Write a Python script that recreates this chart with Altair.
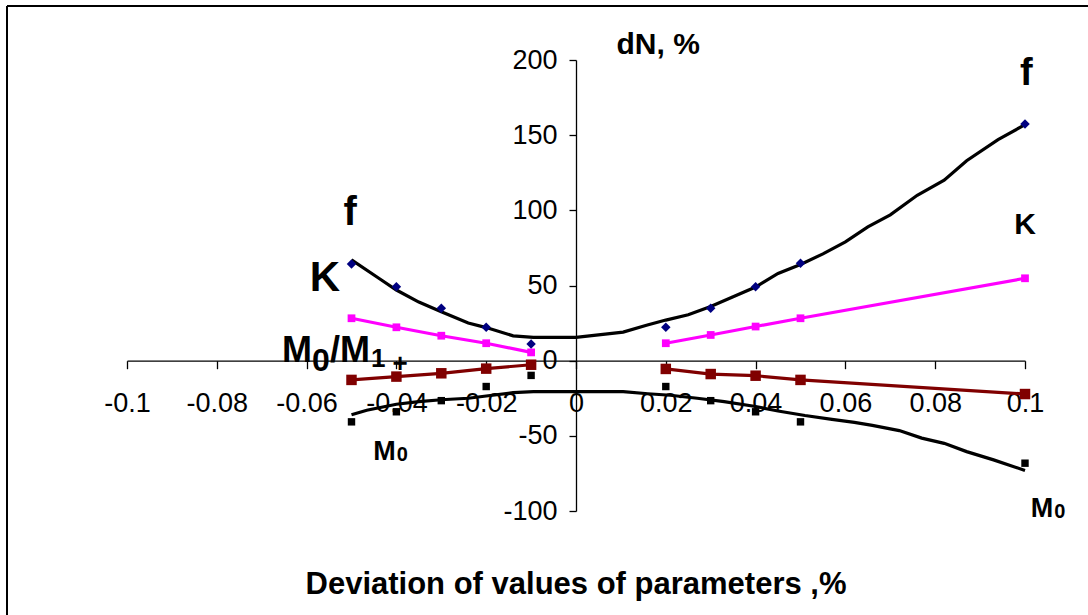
import altair as alt
import pandas as pd

# ---- data ----
x_pts = [-0.05, -0.04, -0.03, -0.02, -0.01, 0.02, 0.03, 0.04, 0.05, 0.1]
segment = ["left"] * 5 + ["right"] * 5
f_vals = [64.3, 49.2, 34.8, 22.2, 11.1, 22.2, 34.8, 49.2, 64.8, 157.4]
k_vals = [28.2, 22.2, 16.6, 11.6, 5.5, 11.6, 17.1, 22.7, 28.2, 54.8]
m01_vals = [-12.8, -10.6, -8.4, -5.3, -2.7, -5.5, -8.9, -10.0, -12.8, -22.2]
m0_vals = [-40.7, -34.0, -26.6, -17.2, -9.8, -17.2, -26.6, -34.0, -40.7, -68.2]

f_curve_x = [-0.05, -0.044, -0.04, -0.035, -0.03, -0.024, -0.02, -0.014, -0.0095, 0.0,
             0.0105, 0.0157, 0.02, 0.025, 0.03, 0.035, 0.04, 0.045, 0.05, 0.055,
             0.06, 0.065, 0.07, 0.076, 0.082, 0.087, 0.094, 0.1]
f_curve_y = [67, 55, 47, 39, 32.5, 25, 22, 16.5, 15.5, 15.5,
             19, 23.5, 27, 30.5, 36, 42.5, 49, 58, 64, 71,
             79, 89, 97, 110, 120, 133, 147, 157]

m0_curve_x = [-0.05, -0.0466, -0.04, -0.035, -0.03, -0.024, -0.02, -0.014, -0.0095, 0.0,
              0.0105, 0.016, 0.021, 0.027, 0.033, 0.04, 0.045, 0.051, 0.057, 0.062,
              0.066, 0.072, 0.077, 0.082, 0.087, 0.093, 0.1]
m0_curve_y = [-36, -33, -29, -27.3, -26, -25, -23.5, -21.3, -20.6, -20.6,
              -20.6, -22, -23, -25, -27.3, -30.5, -33.5, -36.5, -39, -41,
              -43, -46.5, -51.5, -55, -60.5, -66, -73]

x_ticks = [-0.1, -0.08, -0.06, -0.04, -0.02, 0, 0.02, 0.04, 0.06, 0.08, 0.1]
y_ticks = [-100, -50, 0, 50, 100, 150, 200]

FONT = "Liberation Sans"

pts = pd.DataFrame({"x": x_pts, "seg": segment, "f": f_vals, "k": k_vals,
                    "m01": m01_vals, "m0": m0_vals})
f_curve = pd.DataFrame({"x": f_curve_x, "y": f_curve_y})
m0_curve = pd.DataFrame({"x": m0_curve_x, "y": m0_curve_y})

xs = alt.Scale(domain=[-0.1, 0.1], nice=False, zero=False)
ys = alt.Scale(domain=[-100, 200], nice=False, zero=False)

xaxis = alt.Axis(values=x_ticks, labelExpr="'' + datum.value", offset=-150.3,
                 tickSize=8, labelPadding=22, labelFontSize=27, labelFont=FONT,
                 labelColor="black", domainColor="black", tickColor="black",
                 domainWidth=1.3, tickWidth=1.3, grid=False, title=None,
                 labelFlush=False, labelOverlap=False)
yaxis = alt.Axis(values=y_ticks, labelExpr="'' + datum.value", offset=-449,
                 tickSize=7, labelPadding=12, labelFontSize=27, labelFont=FONT,
                 labelColor="black", domainColor="black", tickColor="black",
                 domainWidth=1.3, tickWidth=1.3, grid=False, title=None,
                 labelFlush=False, labelOverlap=False)


def X(field="x"):
    return alt.X(f"{field}:Q", scale=xs, axis=xaxis)


def Y(field):
    return alt.Y(f"{field}:Q", scale=ys, axis=yaxis)


layers = []

# f trend curve
layers.append(alt.Chart(f_curve).mark_line(color="black", strokeWidth=3.2)
              .encode(x=X(), y=Y("y")))
# M0 trend curve
layers.append(alt.Chart(m0_curve).mark_line(color="black", strokeWidth=3.2)
              .encode(x=X(), y=Y("y")))
# K lines + squares
layers.append(alt.Chart(pts).mark_line(color="#FF00FF", strokeWidth=3.2)
              .encode(x=X(), y=Y("k"), detail="seg:N"))
layers.append(alt.Chart(pts).mark_point(shape="square", filled=True, opacity=1,
                                         color="#FF00FF", size=60)
              .encode(x=X(), y=Y("k")))
# M0/M1 lines + squares
layers.append(alt.Chart(pts).mark_line(color="#800000", strokeWidth=3.2)
              .encode(x=X(), y=Y("m01"), detail="seg:N"))
layers.append(alt.Chart(pts).mark_point(shape="square", filled=True, opacity=1,
                                         color="#800000", size=110)
              .encode(x=X(), y=Y("m01")))
# f points (diamonds)
layers.append(alt.Chart(pts).mark_point(shape="diamond", filled=True, opacity=1,
                                         color="#000080", size=90)
              .encode(x=X(), y=Y("f")))
# M0 points (squares)
layers.append(alt.Chart(pts).mark_point(shape="square", filled=True, opacity=1,
                                         color="black", size=55)
              .encode(x=X(), y=Y("m0")))

# annotations: (text, x, y, fontSize, align, baseline, dx, dy)
ann = [
    ("f", -0.0503, 98, 40, "center", "middle", 0, 0),
    ("f", 0.1003, 191, 38, "center", "middle", 0, 0),
    ("K", -0.0559, 55, 42, "center", "middle", 0, 0),
    ("K", 0.1, 90, 30, "center", "middle", 0, 0),
    # M0/M1 label built from pieces (large subscripts as in the reference)
    ("M", -0.0655, -1, 36, "left", "alphabetic", 0, 0),
    ("0", -0.0655, -1, 32, "left", "alphabetic", 30, 9),
    ("/M", -0.0655, -1, 36, "left", "alphabetic", 48, 0),
    ("1", -0.0655, -1, 26, "left", "alphabetic", 89, 5),
    ("+", -0.0392, -2, 26, "center", "middle", 0, 0),
    # small M0 labels
    ("M", -0.0419, -61, 27, "right", "middle", 8, 0),
    ("0", -0.0419, -61, 20, "left", "middle", 9, 3),
    ("M", 0.1045, -99, 27, "right", "middle", 8, 0),
    ("0", 0.1045, -99, 20, "left", "middle", 9, 3),
    ("dN, %", 0.0183, 210, 30, "center", "middle", 0, 0),
    ("Deviation of values of parameters ,%", 0.0, -149, 31, "center", "middle", 0, 0),
]
for label, ax, ay, fs, al, bl, ddx, ddy in ann:
    d = pd.DataFrame({"x": [ax], "y": [ay], "t": [label]})
    layers.append(alt.Chart(d).mark_text(font=FONT, fontWeight="bold", fontSize=fs,
                                          align=al, baseline=bl, color="black",
                                          dx=ddx, dy=ddy)
                  .encode(x=X(), y=Y("y"), text="t:N"))

# outer frame (top and left edges)
frame_df = pd.DataFrame({"a": [0]})
layers.append(alt.Chart(frame_df).mark_rule(color="black", strokeWidth=2)
              .encode(x=alt.value(-120), x2=alt.value(961), y=alt.value(-54)))
layers.append(alt.Chart(frame_df).mark_rule(color="black", strokeWidth=2)
              .encode(x=alt.value(-120), y=alt.value(-54), y2=alt.value(555)))

chart = alt.layer(*layers).properties(
    width=898, height=451,
    autosize=alt.AutoSizeParams(type="none"),
    padding={"left": 127, "top": 60, "right": 63, "bottom": 104},
    background="white",
).configure_view(stroke=None)

chart.save("out.html", embed_options={"renderer": "svg", "actions": False})
